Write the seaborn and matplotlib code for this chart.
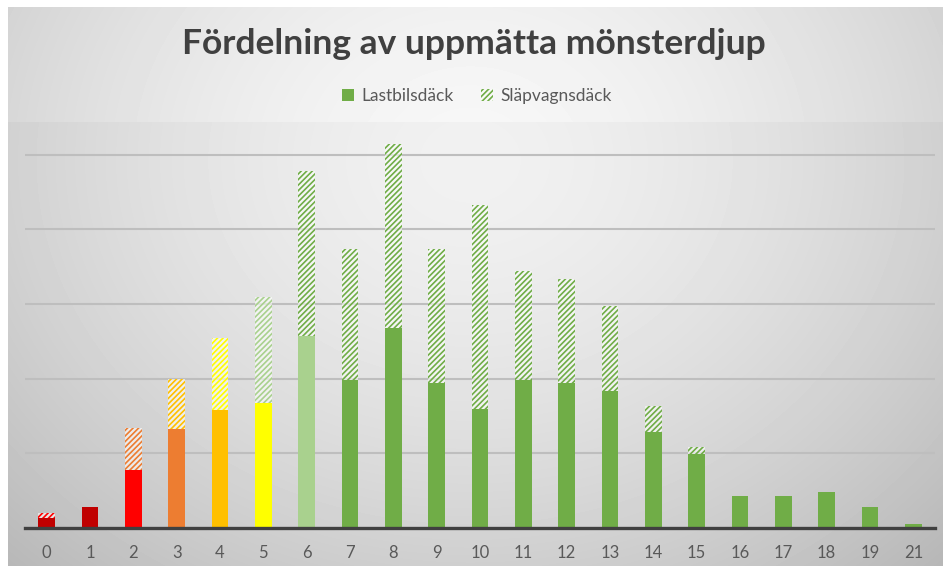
import numpy as np
import seaborn as sns
from matplotlib import pyplot as plt
from matplotlib.patches import Patch

# values (gridline step = 50)
categories = ['0', '1', '2', '3', '4', '5', '6', '7', '8', '9', '10',
              '11', '12', '13', '14', '15', '16', '17', '18', '19', '21']
lastbil = [6.5, 14, 39, 66, 79, 84, 128.5, 99, 134, 97, 79.5,
           99, 97, 91.5, 64, 49.5, 21.5, 21.5, 24, 14, 2.5]
slapvagn = [3.5, 0, 28, 34, 48, 71, 110.5, 88, 123, 90, 137,
            73, 70, 57.5, 18, 4.5, 0, 0, 0, 0, 0]

solid_colors = ['#C00000', '#C00000', '#FF0000', '#ED7D31', '#FFC000', '#FFFF00', '#A9D18E'] + ['#70AD47'] * 14
hatch_colors = ['#FF0000', '#FF0000', '#ED7D31', '#FFC000', '#FFFF00', '#A9D18E', '#70AD47'] + ['#70AD47'] * 14

totals = [a + b for a, b in zip(lastbil, slapvagn)]

plt.rcParams['hatch.linewidth'] = 1.2

W, H = 943, 566
fig = plt.figure(figsize=(W / 100, H / 100), dpi=100)

# background gradient
bg = fig.add_axes([0, 0, 1, 1], zorder=0)
bg.axis('off')
Y, X = np.mgrid[0:H, 0:W]
r = np.sqrt(((X - 470) / 620.0) ** 2 + ((Y - 160) / 520.0) ** 2)
val = 0.97 - 0.2 * r ** 1.6
val[(Y >= 122)] -= 0.025
val[(X < 8) | (Y < 7)] = 1.0
bg.imshow(np.clip(val, 0, 1), cmap='gray', vmin=0, vmax=1, extent=[0, 1, 0, 1],
          aspect='auto', origin='upper')
bg.set_xlim(0, 1)
bg.set_ylim(0, 1)

ax = fig.add_axes([25 / W, (H - 528) / H, 910 / W, (528 - 122) / H], zorder=1)
ax.patch.set_alpha(0)

sns.barplot(x=categories, y=totals, order=categories, hue=categories,
            palette=hatch_colors, saturation=1, legend=False, width=0.39, ax=ax)
for p, c in zip(ax.patches, hatch_colors):
    p.set_facecolor((1, 1, 1, 0.6))
    p.set_edgecolor(c)
    p.set_hatch('//////')
    p.set_linewidth(0)

sns.barplot(x=categories, y=lastbil, order=categories, hue=categories,
            palette=solid_colors, saturation=1, legend=False, width=0.39, ax=ax, linewidth=0)

ax.set_ylim(0, 272)
ax.set_xlim(-0.5, len(categories) - 0.5)
ax.set_yticks([50, 100, 150, 200, 250])
ax.set_yticklabels([])
ax.yaxis.grid(True, color='#BEBEBE', linewidth=1.5)
ax.set_axisbelow(True)
ax.tick_params(axis='both', length=0)
ax.tick_params(axis='x', pad=12, labelsize=12, labelcolor='#595959')
for s in ['top', 'left', 'right']:
    ax.spines[s].set_visible(False)
ax.spines['bottom'].set_color('#404040')
ax.spines['bottom'].set_linewidth(2.4)
ax.spines['bottom'].set_zorder(5)
ax.set_xlabel('')
ax.set_ylabel('')
for lbl in ax.get_xticklabels():
    lbl.set_fontfamily('Lato')

fig.text(0.503, (H - 44) / H, 'Fördelning av uppmätta mönsterdjup', ha='center', va='center',
         fontsize=25.5, fontweight='bold', color='#404040', family='Lato')

handles = [Patch(facecolor='#70AD47', edgecolor='none', label='Lastbilsdäck'),
           Patch(facecolor=(1, 1, 1, 0.5), edgecolor='#70AD47', hatch='//////', linewidth=0, label='Släpvagnsdäck')]
fig.legend(handles=handles, loc='center', bbox_to_anchor=(477 / W, (H - 96) / H), ncol=2,
           frameon=False, prop={'family': 'Lato', 'size': 12.5}, labelcolor='#595959',
           handlelength=0.7, handleheight=0.7, handletextpad=0.4, columnspacing=1.6)

fig.savefig('out.png', dpi=100)
